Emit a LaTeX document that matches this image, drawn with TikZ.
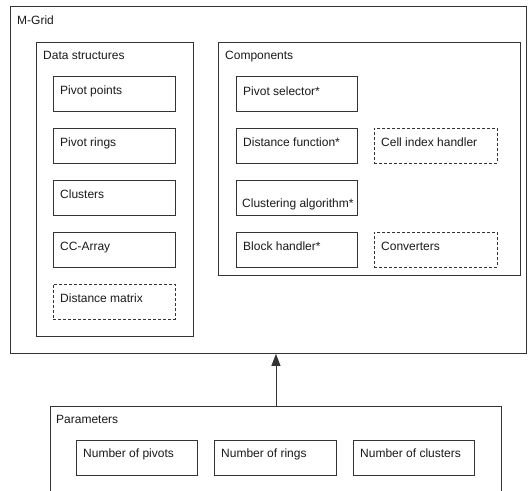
\documentclass[tikz,border=0pt]{standalone}
\usepackage{fontspec}
\setmainfont{Liberation Sans}
\usetikzlibrary{arrows.meta}
\begin{document}
\begin{tikzpicture}[x=1pt,y=-1pt,
  every node/.style={font=\fontsize{12}{14}\selectfont, text=black!90},
  frame/.style={draw=black!80, line width=0.9pt, inner sep=0pt, anchor=north west},
  solidbox/.style={frame, minimum width=122pt, minimum height=35pt},
  dashbox/.style={solidbox, dash pattern=on 3pt off 2pt},
  txt/.style={anchor=base west, inner sep=0pt},
  conn/.style={draw=black!80, line width=0.9pt, -{Triangle[length=12pt,width=9pt]}}
]
\useasboundingbox (0,0) rectangle (532,490);
\clip (0,0) rectangle (532,490);
% M-Grid
\node[frame, minimum width=516pt, minimum height=347pt] (mgrid) at (10,6) {};
\node[txt] (mgridT) at (17,24) {M-Grid};
% Data structures
\node[frame, minimum width=157pt, minimum height=294pt] (ds) at (36,42) {};
\node[txt] (dsT) at (43,59) {Data structures};
\node[solidbox] (pp) at (53,76) {};
\node[txt] (ppT) at (60,94) {Pivot points};
\node[solidbox] (pr) at (53,128) {};
\node[txt] (prT) at (60,146) {Pivot rings};
\node[solidbox] (cl) at (53,180) {};
\node[txt] (clT) at (60,198) {Clusters};
\node[solidbox] (cc) at (53,232) {};
\node[txt] (ccT) at (60,250) {CC-Array};
\node[dashbox] (dm) at (53,284) {};
\node[txt] (dmT) at (60,302) {Distance matrix};
% Components
\node[frame, minimum width=302pt, minimum height=233pt] (comp) at (218,42) {};
\node[txt] (compT) at (225,59) {Components};
\node[solidbox, minimum width=121pt] (ps) at (236,76) {};
\node[txt] (psT) at (243,95) {Pivot selector*};
\node[solidbox, minimum width=121pt] (df) at (236,128) {};
\node[txt] (dfT) at (243,146) {Distance function*};
\node[solidbox, minimum width=121pt] (ca) at (236,180) {};
\node[txt] (caT) at (242,207) {Clustering algorithm*};
\node[solidbox, minimum width=121pt] (bh) at (236,232) {};
\node[txt] (bhT) at (243,250) {Block handler*};
\node[dashbox, minimum width=123pt] (cih) at (374,128) {};
\node[txt] (cihT) at (381,146) {Cell index handler};
\node[dashbox, minimum width=123pt] (cv) at (374,232) {};
\node[txt] (cvT) at (381,250) {Converters};
% Parameters
\node[frame, minimum width=451pt, minimum height=110pt] (par) at (50,406) {};
\node[txt] (parT) at (56,423) {Parameters};
\node[solidbox, minimum width=121pt] (np) at (76,440) {};
\node[txt] (npT) at (83,457) {Number of pivots};
\node[solidbox] (nr) at (214,440) {};
\node[txt] (nrT) at (221,457) {Number of rings};
\node[solidbox, minimum width=121pt] (nc) at (353,440) {};
\node[txt] (ncT) at (360,457) {Number of clusters};
% Connector
\draw[conn] (par.north) -- (par.north |- mgrid.south);
\end{tikzpicture}
\end{document}
